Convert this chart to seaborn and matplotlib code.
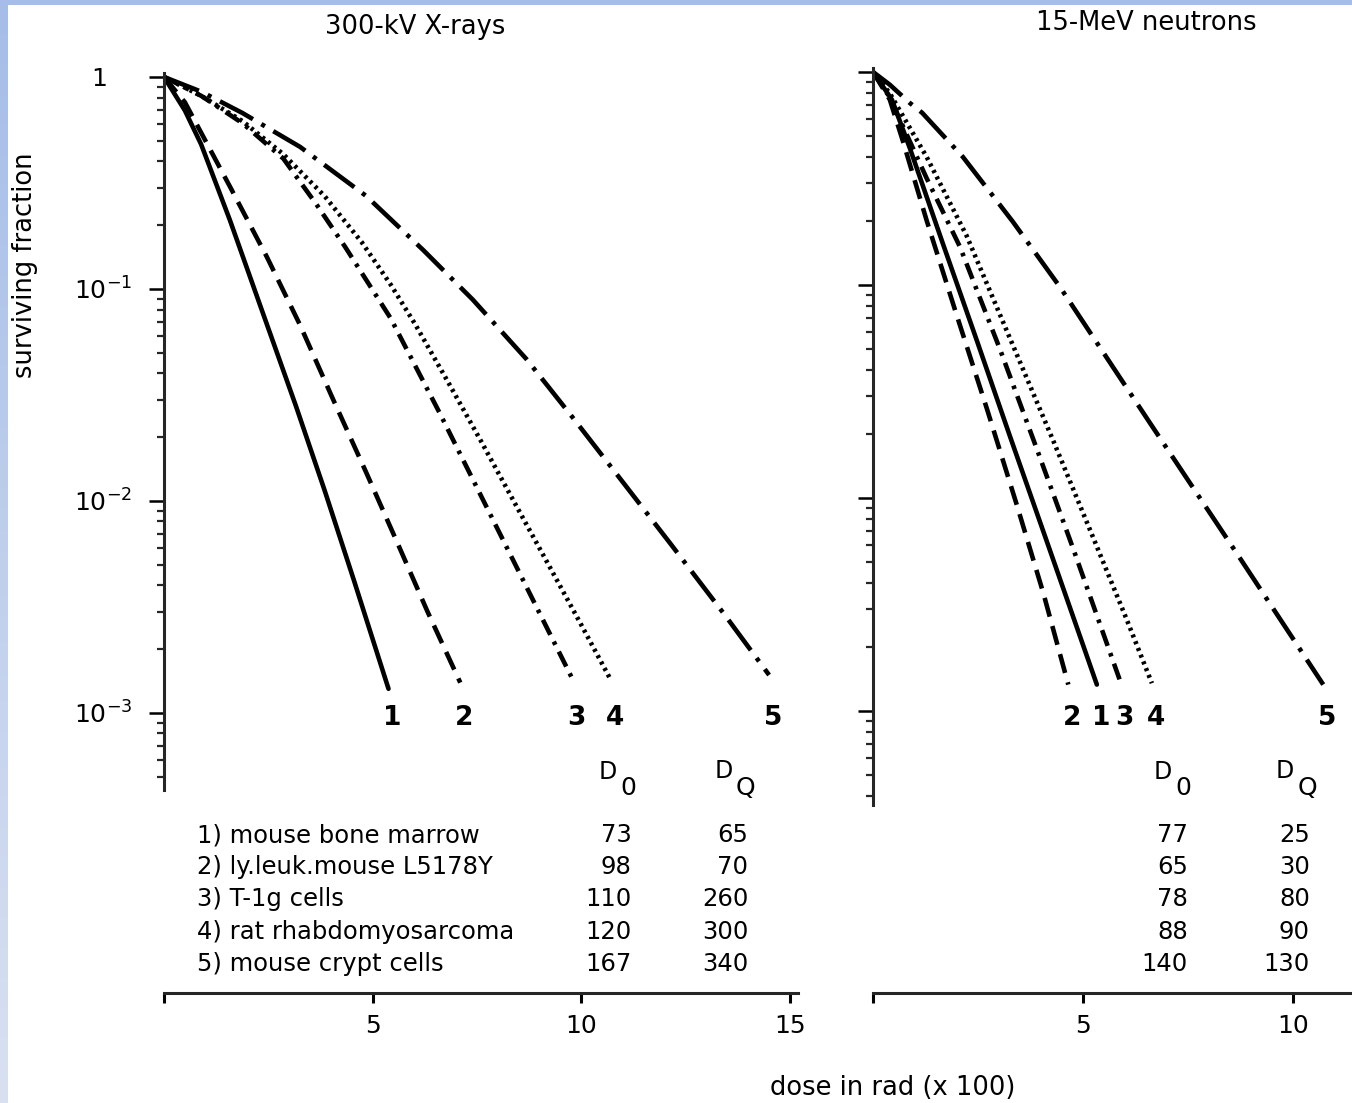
import numpy as np
import pandas as pd
import matplotlib
matplotlib.use("Agg")
import matplotlib.pyplot as plt
import seaborn as sns
from matplotlib.transforms import blended_transform_factory

# --- data -------------------------------------------------------------
curve_ids = ["1", "2", "3", "4", "5"]
cell_lines = ["mouse bone marrow", "ly.leuk.mouse L5178Y", "T-1g cells",
              "rat rhabdomyosarcoma", "mouse crypt cells"]
xray_d0 = [73, 98, 110, 120, 167]       # rad
xray_dq = [65, 70, 260, 300, 340]       # rad
neutron_d0 = [77, 65, 78, 88, 140]      # rad
neutron_dq = [25, 30, 80, 90, 130]      # rad

# surviving-fraction curves, dose in units of 100 rad
xray_dose_1 = [0, 0.50, 0.89, 1.58, 2.37, 3.16, 3.85, 4.54, 5.38]
xray_sf_1 = [1, 0.695, 0.481, 0.211, 0.0769, 0.0281, 0.0112, 0.00429, 0.00130]
xray_dose_2 = [0, 0.50, 1.58, 2.47, 3.26, 4.05, 4.84, 5.62, 6.31, 7.10]
xray_sf_2 = [1, 0.760, 0.304, 0.141, 0.0676, 0.0302, 0.0137, 0.00617, 0.00302, 0.00139]
xray_dose_3 = [0, 0.89, 1.88, 2.86, 3.65, 4.34, 5.43, 6.61, 7.94, 8.98, 9.77]
xray_sf_3 = [1, 0.815, 0.605, 0.412, 0.251, 0.158, 0.0728, 0.0259, 0.00774, 0.00301, 0.00147]
xray_dose_4 = [0, 0.89, 1.88, 2.86, 3.85, 4.74, 5.43, 6.02, 6.81, 7.60, 8.38, 9.17, 9.96, 10.70]
xray_sf_4 = [1, 0.815, 0.619, 0.432, 0.274, 0.166, 0.105, 0.0681, 0.0363, 0.0191,
             0.00998, 0.00519, 0.00269, 0.00144]
xray_dose_5 = [0, 0.90, 1.88, 3.26, 4.84, 6.22, 7.40, 8.68, 9.77, 10.95, 12.13, 13.41, 14.50]
xray_sf_5 = [1, 0.851, 0.676, 0.468, 0.275, 0.152, 0.0890, 0.0468, 0.0251, 0.0126,
             0.00631, 0.00295, 0.00151]

neutron_dose_1 = [0, 0.45, 0.88, 1.67, 2.47, 3.26, 4.14, 5.33]
neutron_sf_1 = [1, 0.741, 0.437, 0.155, 0.0550, 0.0195, 0.00624, 0.00133]
neutron_dose_2 = [0, 0.40, 0.72, 1.28, 1.99, 2.71, 3.42, 4.06, 4.65]
neutron_sf_2 = [1, 0.741, 0.468, 0.200, 0.0724, 0.0263, 0.00933, 0.00355, 0.00133]
neutron_dose_3 = [0, 0.40, 1.28, 2.07, 3.02, 3.90, 4.77, 5.88]
neutron_sf_3 = [1, 0.759, 0.316, 0.151, 0.0501, 0.0170, 0.00575, 0.00139]
neutron_dose_4 = [0, 0.40, 1.28, 2.23, 3.26, 4.29, 5.25, 6.04, 6.64]
neutron_sf_4 = [1, 0.794, 0.398, 0.170, 0.0562, 0.0186, 0.00646, 0.00269, 0.00135]
neutron_dose_5 = [0, 0.40, 0.88, 1.17, 2.14, 3.33, 4.45, 6.60, 8.66, 10.72]
neutron_sf_5 = [1, 0.871, 0.714, 0.643, 0.399, 0.198, 0.0979, 0.0224, 0.00550, 0.00133]

W, H = 1352, 1103


def curve_table(doses, fractions):
    frames = [pd.DataFrame({"curve": cid, "dose": d, "sf": s})
              for cid, d, s in zip(curve_ids, doses, fractions)]
    return pd.concat(frames, ignore_index=True)


xray = curve_table([xray_dose_1, xray_dose_2, xray_dose_3, xray_dose_4, xray_dose_5],
                   [xray_sf_1, xray_sf_2, xray_sf_3, xray_sf_4, xray_sf_5])
neutron = curve_table([neutron_dose_1, neutron_dose_2, neutron_dose_3,
                       neutron_dose_4, neutron_dose_5],
                      [neutron_sf_1, neutron_sf_2, neutron_sf_3,
                       neutron_sf_4, neutron_sf_5])

# --- style ------------------------------------------------------------
sns.set_theme(style="ticks")
plt.rcParams["font.family"] = ["DejaVu Sans"]
plt.rcParams["lines.scale_dashes"] = False
plt.rcParams["axes.linewidth"] = 2.2
plt.rcParams["mathtext.fontset"] = "dejavusans"

line_styles = {
    "1": "-",
    "2": (0, (14, 7)),
    "3": (0, (12, 5.5, 2.6, 5.5)),
    "4": (0, (2.2, 3.0)),
    "5": (0, (27, 7, 3, 7)),
}
LW = 3.3

fig = plt.figure(figsize=(W / 100, H / 100), dpi=100)
fig.patch.set_facecolor("white")

# light-blue frame along the top and left edge
frame_ax = fig.add_axes([0, 0, 7 / W, 1])
grad = np.linspace(0, 1, 256)[:, None]
frame_ax.imshow(grad, aspect="auto", extent=[0, 1, 0, 1],
                cmap=matplotlib.colors.LinearSegmentedColormap.from_list(
                    "edge", ["#d9e1f1", "#a5bde8"]), origin="lower")
frame_ax.set_axis_off()
fig.add_artist(plt.Rectangle((0, 1 - 5 / H), 1, 5 / H, transform=fig.transFigure,
                             color="#a5bde8", lw=0, zorder=10))


def make_panel(rect, xlim, ylim, ybounds, xbound, xticks, data):
    ax = fig.add_axes(rect)
    ax.set_facecolor("white")
    for cid in curve_ids:
        sub = data[data["curve"] == cid]
        sns.lineplot(data=sub, x="dose", y="sf", ax=ax, color="black",
                     linewidth=LW, linestyle=line_styles[cid],
                     estimator=None, sort=False, legend=False)
    ax.set_yscale("log")
    ax.set_xlim(*xlim)
    ax.set_ylim(*ylim)
    ax.set_xlabel("")
    ax.set_ylabel("")
    for s in ("top", "right"):
        ax.spines[s].set_visible(False)
    ax.spines["left"].set_bounds(*ybounds)
    ax.spines["bottom"].set_bounds(*xbound)
    ax.set_xticks(xticks)
    ax.set_xticklabels([""] + [str(t) for t in xticks[1:]])
    major = [1e-3, 1e-2, 1e-1, 1]
    minor = [m * 10.0 ** e for e in range(-4, 0) for m in range(2, 10)
             if ybounds[0] <= m * 10.0 ** e <= ybounds[1]]
    ax.set_yticks(major)
    ax.set_yticks(minor, minor=True)
    ax.tick_params(axis="y", which="major", direction="out", length=11, width=1.8,
                   pad=12, labelsize=18, colors="black")
    ax.tick_params(axis="y", which="minor", direction="out", length=5, width=1.6,
                   labelleft=False)
    ax.tick_params(axis="x", which="major", direction="out", length=7, width=2.2,
                   pad=8, labelsize=18, colors="black")
    return ax


# left panel: 300-kV X-rays
axL = make_panel([164 / W, 110 / H, 15.3 * 41.73 / W, 933 / H],
                 (0, 15.3), (10 ** -4.321, 10 ** 0.080),
                 (10 ** -3.363, 1.045), (0, 15.2), [0, 5, 10, 15], xray)
axL.set_yticklabels([r"$10^{-3}$", r"$10^{-2}$", r"$10^{-1}$", "1   "])

# right panel: 15-MeV neutrons
axR = make_panel([873 / W, 110 / H, 13 * 42 / W, 933 / H],
                 (0, 13), (10 ** -4.324, 10 ** 0.056),
                 (10 ** -3.44, 10 ** 0.02), (0, 13), [0, 5, 10], neutron)
axR.tick_params(axis="y", which="both", labelleft=False)


def fig_y(py):
    return 1 - py / H


def annotate_panel(ax, data, d0_list, dq_list, d0_x, dq_x, hd0_x, hdq_x, names):
    tr = blended_transform_factory(ax.transData, fig.transFigure)
    # curve numbers under the curve ends
    for cid in curve_ids:
        end_dose = data.loc[data["curve"] == cid, "dose"].max()
        ax.text(end_dose + 0.1, fig_y(718), cid, transform=tr, ha="center",
                va="center", fontsize=19, fontweight="bold", color="black")
    # column headers D0 and DQ
    ax.text(hd0_x, fig_y(772), "D", transform=tr, ha="right", va="center",
            fontsize=17, color="black")
    ax.text(hd0_x + 0.08, fig_y(788), "0", transform=tr, ha="left", va="center",
            fontsize=18, color="black")
    ax.text(hdq_x, fig_y(771), "D", transform=tr, ha="right", va="center",
            fontsize=17, color="black")
    ax.text(hdq_x + 0.08, fig_y(788), "Q", transform=tr, ha="left", va="center",
            fontsize=18, color="black")
    rows_y = [835, 867, 899, 932, 964]
    for i, (ry, d0, dq) in enumerate(zip(rows_y, d0_list, dq_list)):
        if names:
            ax.text(0.8, fig_y(ry), f"{curve_ids[i]}) {cell_lines[i]}", transform=tr,
                    ha="left", va="center", fontsize=17.5, color="black")
        ax.text(d0_x, fig_y(ry), str(d0), transform=tr, ha="right", va="center",
                fontsize=17.5, color="black")
        ax.text(dq_x, fig_y(ry), str(dq), transform=tr, ha="right", va="center",
                fontsize=17.5, color="black")


annotate_panel(axL, xray, xray_d0, xray_dq, 11.2, 14.0, 10.85, 13.63, True)
annotate_panel(axR, neutron, neutron_d0, neutron_dq, 7.5, 10.4, 7.12, 10.02, False)

fig.text(415 / W, fig_y(27), "300-kV X-rays", ha="center", va="center",
         fontsize=18.5, color="black")
fig.text(1146 / W, fig_y(23), "15-MeV neutrons", ha="center", va="center",
         fontsize=18.5, color="black")
fig.text(893 / W, fig_y(1088), "dose in rad (x 100)", ha="center", va="center",
         fontsize=18.5, color="black")
fig.text(25 / W, fig_y(265), "surviving fraction", ha="center", va="center",
         rotation=90, fontsize=18.5, color="black")

fig.savefig("out.png", dpi=100)
